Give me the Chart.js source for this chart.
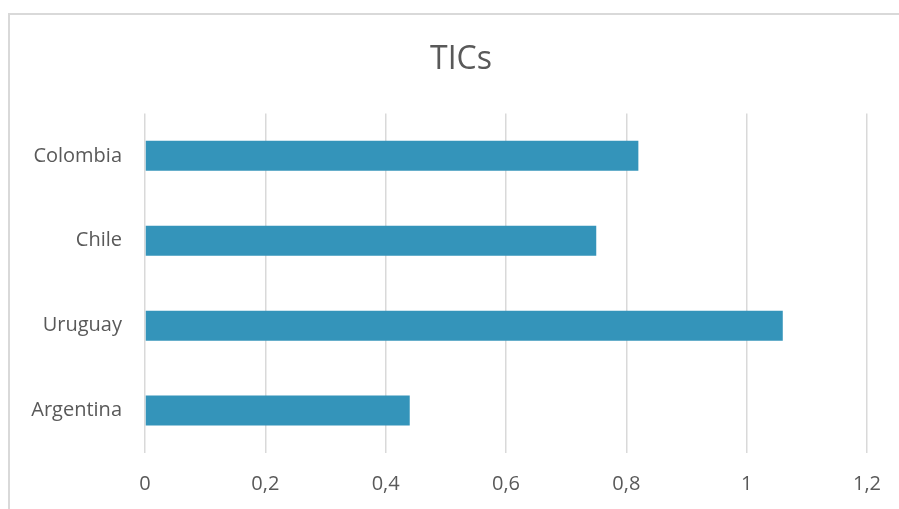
<!DOCTYPE html>
<html>
<head>
<meta charset="utf-8">
<script src="https://cdn.jsdelivr.net/npm/chart.js@4"></script>
<style>
  html, body { margin: 0; padding: 0; background: #ffffff; overflow: hidden; }
  #wrap { width: 899px; height: 509px; position: relative; overflow: hidden; }
</style>
</head>
<body>
<div id="wrap"><canvas id="ticsChart" width="922" height="509"></canvas></div>
<script>
// ------------------------- Chart data -------------------------
const countries = ["Colombia", "Chile", "Uruguay", "Argentina"];
const ticValues = [0.82, 0.75, 1.06, 0.44];
const xTicks = [0, 0.2, 0.4, 0.6, 0.8, 1, 1.2];

const barColor = "#3494BA";
const textColor = "#595959";
const gridColor = "#d9d9d9";

// Light frame like the Excel chart area (cut off at right & bottom)
const framePlugin = {
  id: 'frame',
  beforeDraw(chart) {
    const ctx = chart.ctx;
    ctx.save();
    ctx.strokeStyle = gridColor;
    ctx.lineWidth = 2;
    ctx.beginPath();
    ctx.moveTo(9, chart.height + 5);
    ctx.lineTo(9, 14);
    ctx.lineTo(chart.width + 5, 14);
    ctx.stroke();
    ctx.restore();
  }
};

const ctx = document.getElementById('ticsChart');
new Chart(ctx, {
  type: 'bar',
  data: {
    labels: countries,
    datasets: [{
      label: 'TICs',
      data: ticValues,
      backgroundColor: barColor,
      borderWidth: 0,
      barPercentage: 0.7,
      categoryPercentage: 0.505
    }]
  },
  options: {
    indexAxis: 'y',
    responsive: false,
    animation: false,
    layout: { padding: 0 },
    scales: {
      x: {
        min: 0,
        max: 1.2,
        afterBuildTicks: (axis) => { axis.ticks = xTicks.map(v => ({ value: v })); },
        afterFit: (axis) => { axis.height = 56; },
        border: { display: false },
        grid: { color: gridColor, lineWidth: 1.5, drawTicks: false },
        ticks: {
          color: textColor,
          padding: 19,
          font: { family: "'Open Sans', sans-serif", size: 20 },
          callback: (v) => String(Math.round(v * 10) / 10).replace('.', ',')
        }
      },
      y: {
        afterFit: (axis) => { axis.width = 145; },
        border: { display: false },
        grid: { display: false, drawTicks: false },
        ticks: {
          color: textColor,
          padding: 23,
          font: { family: "'Open Sans', sans-serif", size: 20 }
        }
      },
      // empty right-side spacer, keeps plot right edge where Excel had it
      ySpacer: {
        type: 'linear',
        axis: 'y',
        position: 'right',
        afterFit: (axis) => { axis.width = 55; },
        border: { display: false },
        grid: { display: false, drawTicks: false },
        ticks: { display: false }
      }
    },
    plugins: {
      legend: { display: false },
      tooltip: { enabled: false },
      title: {
        display: true,
        text: 'TICs',
        color: textColor,
        font: { family: "'Open Sans', sans-serif", size: 32, weight: 'normal' },
        padding: { top: 41, bottom: 34 }
      }
    }
  },
  plugins: [framePlugin]
});
</script>
</body>
</html>
